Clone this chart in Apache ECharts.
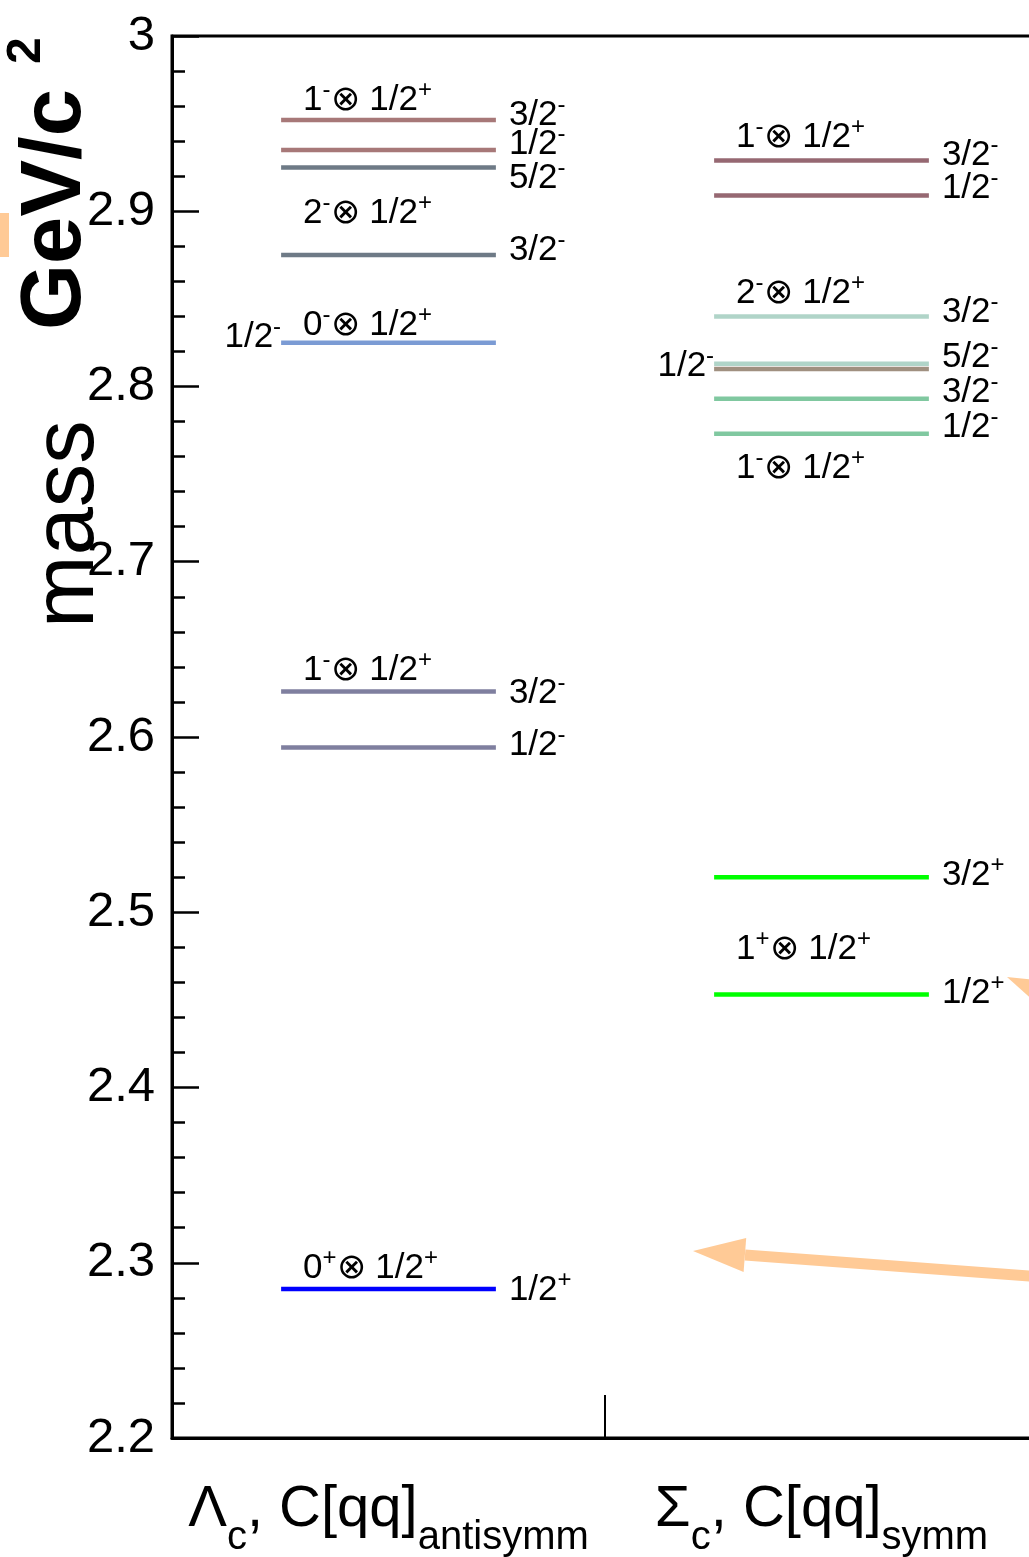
<!DOCTYPE html>
<html><head><meta charset="utf-8">
<script src="https://cdn.jsdelivr.net/npm/echarts@6/dist/echarts.min.js"></script>
<style>html,body{margin:0;padding:0;background:#fff}#c{width:1029px;height:1557px}</style>
</head><body><div id="c"></div>
<script>
// ---- data ----
const categories = ['Lambda_c', 'Sigma_c'];
const categorySymbols = ['Λ', 'Σ'];
const diquarkSubs = ['antisymm', 'symm'];
const yMin = 2.2, yMax = 3.0, yStep = 0.1;

const lambdaMass = [2.952, 2.935, 2.925, 2.875, 2.825, 2.626, 2.594, 2.285];
const lambdaJP = ['3/2-', '1/2-', '5/2-', '3/2-', '', '3/2-', '1/2-', '1/2+'];
const lambdaLeftJP = ['', '', '', '', '1/2-', '', '', ''];

const sigmaMass = [2.929, 2.909, 2.840, 2.813, 2.810, 2.793, 2.773, 2.520, 2.453];
const sigmaJP = ['3/2-', '1/2-', '3/2-', '5/2-', '', '3/2-', '1/2-', '3/2+', '1/2+'];
const sigmaLeftJP = ['', '', '', '', '1/2-', '', '', '', ''];

const groupCategory = [0, 0, 0, 0, 0, 1, 1, 1, 1];
const groupMass = [2.9635, 2.899, 2.835, 2.638, 2.297, 2.942, 2.853, 2.7535, 2.479];
const groupDiquark = ['1-', '2-', '0-', '1-', '0+', '1-', '2-', '1-', '1+'];

// ---- styles / layout ----
const lambdaColors = ['#a77878', '#a77878', '#6e7a86', '#6e7a86', '#7b9bd4', '#7f7f9f', '#7f7f9f', '#0000ff'];
const sigmaColors = ['#966872', '#966872', '#b0d4c8', '#b0d4c8', '#a09080', '#80c8a0', '#80c8a0', '#00ff00', '#00ff00'];
const lambdaNudge = [-5, -6, 11, -5, 0, 2, -2, 1];
const lambdaLeftNudge = [0, 0, 0, 0, -5, 0, 0, 0];
const sigmaNudge = [-5, -7, -4, -6, 0, -6, -6, -2, -1];
const sigmaLeftNudge = [0, 0, 0, 0, -3, 0, 0, 0, 0];
const LINE_HALF = 0.248;
const FONT = 'Liberation Sans';
const ORANGE = '#ffca96';

const RICH_LEVEL = {
  n: { fontSize: 35, fontFamily: FONT, lineHeight: 40, verticalAlign: 'middle', fill: '#000' },
  p: { fontSize: 24, fontFamily: FONT, height: 20, verticalAlign: 'top', fill: '#000' }
};
function supText(s) {
  const base = s.slice(0, -1), sign = s.slice(-1);
  return '{n|' + base + '}{p|' + sign + '}';
}
function groupText(d) {
  return '{n|' + d.slice(0, -1) + '}{p|' + d.slice(-1) + '}{n|⊗ 1/2}{p|+}';
}

function levelRenderer(jp, leftJp, colors, nudge, leftNudge) {
  return function (params, api) {
    const i = params.dataIndex;
    const p = api.coord([api.value(0), api.value(1)]);
    const half = api.size([1, 0])[0] * LINE_HALF;
    const x0 = p[0] - half, x1 = p[0] + half;
    const children = [{
      type: 'line', shape: { x1: x0, y1: p[1], x2: x1, y2: p[1] },
      style: { stroke: colors[i], lineWidth: 4.5 }
    }];
    if (jp[i]) children.push({
      type: 'text', x: x1 + 13, y: p[1] + nudge[i],
      style: { text: supText(jp[i]), rich: RICH_LEVEL, textAlign: 'left', textVerticalAlign: 'middle', fill: '#000', fontSize: 35, fontFamily: FONT }
    });
    if (leftJp[i]) children.push({
      type: 'text', x: x0, y: p[1] + leftNudge[i],
      style: { text: supText(leftJp[i]), rich: RICH_LEVEL, textAlign: 'right', textVerticalAlign: 'middle', fill: '#000', fontSize: 35, fontFamily: FONT }
    });
    return { type: 'group', children };
  };
}

const chart = echarts.init(document.getElementById('c'), null, { renderer: 'canvas' });
const option = {
  backgroundColor: '#fff',
  animation: false,
  grid: { left: 172, top: 36, width: 866, height: 1402, show: true, borderColor: '#000', borderWidth: 3, backgroundColor: 'transparent', containLabel: false, outerBoundsMode: 'none' },
  xAxis: {
    type: 'category', data: categories, boundaryGap: true,
    axisLine: { show: true, lineStyle: { color: '#000', width: 3 } },
    axisTick: { show: true, inside: true, length: 43, lineStyle: { color: '#000', width: 2 } },
    axisLabel: {
      interval: 0, margin: 33, color: '#000',
      formatter: function (v, i) { return '{n|' + categorySymbols[i] + '}{s|c}{n|, C[qq]}{s|' + diquarkSubs[i] + '}'; },
      rich: {
        n: { fontSize: 58, fontFamily: FONT, lineHeight: 77, verticalAlign: 'middle', color: '#000' },
        s: { fontSize: 40, fontFamily: FONT, height: 20, verticalAlign: 'bottom', color: '#000' }
      }
    },
    splitLine: { show: false }
  },
  yAxis: {
    type: 'value', min: yMin, max: yMax, interval: yStep,
    axisLine: { show: true, lineStyle: { color: '#000', width: 3 } },
    axisTick: { show: true, inside: true, length: 27, lineStyle: { color: '#000', width: 2.5 } },
    minorTick: { show: true, splitNumber: 5, length: 13, lineStyle: { color: '#000', width: 2.5 } },
    axisLabel: {
      margin: 17, color: '#000', fontSize: 49, fontFamily: FONT,
      formatter: function (v) { return String(+(+v).toFixed(1)); }
    },
    splitLine: { show: false }, minorSplitLine: { show: false }
  },
  series: [
    { type: 'custom', name: 'Lambda_c', coordinateSystem: 'cartesian2d', clip: false,
      data: lambdaMass.map(m => [0, m]), encode: { x: 0, y: 1 },
      renderItem: levelRenderer(lambdaJP, lambdaLeftJP, lambdaColors, lambdaNudge, lambdaLeftNudge) },
    { type: 'custom', name: 'Sigma_c', coordinateSystem: 'cartesian2d', clip: false,
      data: sigmaMass.map(m => [1, m]), encode: { x: 0, y: 1 },
      renderItem: levelRenderer(sigmaJP, sigmaLeftJP, sigmaColors, sigmaNudge, sigmaLeftNudge) },
    { type: 'custom', name: 'groups', coordinateSystem: 'cartesian2d', clip: false,
      data: groupMass.map((m, i) => [groupCategory[i], m]), encode: { x: 0, y: 1 },
      renderItem: function (params, api) {
        const i = params.dataIndex;
        const p = api.coord([api.value(0), api.value(1)]);
        const half = api.size([1, 0])[0] * LINE_HALF;
        return { type: 'text', x: p[0] - half + 22, y: p[1],
          style: { text: groupText(groupDiquark[i]), rich: RICH_LEVEL, textAlign: 'left', textVerticalAlign: 'middle', fill: '#000', fontSize: 35, fontFamily: FONT } };
      } }
  ],
  graphic: [
    // axis title
    { type: 'text', x: 69, y: 628, rotation: Math.PI / 2, z: 10,
      style: { text: 'mass', font: '87px "Liberation Sans"', fill: '#000', textAlign: 'left', textVerticalAlign: 'middle' } },
    { type: 'text', x: 57, y: 330, rotation: Math.PI / 2, z: 10,
      style: { text: 'GeV/c', font: 'bold 85px "Liberation Sans"', fill: '#000', textAlign: 'left', textVerticalAlign: 'middle' } },
    { type: 'text', x: 27, y: 64, rotation: Math.PI / 2, z: 10,
      style: { text: '2', font: 'bold 48px "Liberation Sans"', fill: '#000', textAlign: 'left', textVerticalAlign: 'middle' } },
    // decorative overlays (cropped annotations from the original figure)
    { type: 'rect', shape: { x: 0, y: 213, width: 9, height: 44 }, style: { fill: ORANGE }, z: 5 },
    { type: 'line', shape: { x1: 745, y1: 1255, x2: 1060, y2: 1278.3 }, style: { stroke: ORANGE, lineWidth: 11 }, z: 5 },
    { type: 'polygon', shape: { points: [[693, 1251], [746.2, 1237.9], [743.6, 1271.9]] }, style: { fill: ORANGE }, z: 5 },
    { type: 'polygon', shape: { points: [[1007, 977], [1061.4, 982.6], [1047.6, 1013.6]] }, style: { fill: ORANGE }, z: 5 }
  ]
};
chart.setOption(option);
</script>
</body></html>
